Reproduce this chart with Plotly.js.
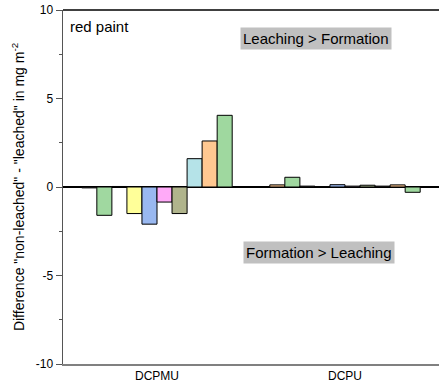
<!DOCTYPE html>
<html>
<head>
<meta charset="utf-8">
<script src="https://cdn.plot.ly/plotly-3.0.1.min.js"></script>
<style>html,body{margin:0;padding:0;background:#fff;}#chart{width:439px;height:391px;}</style>
</head>
<body>
<div id="chart"></div>
<script>
const categories = ["DCPMU", "DCPU"];
// ten bars per group, left to right
const dcpmuValues = [-0.05, -1.6, 0.03, -1.5, -2.1, -0.85, -1.5, 1.6, 2.6, 4.05];
const dcpuValues  = [0.12, 0.55, 0.05, 0.02, 0.13, 0.05, 0.1, 0.05, 0.12, -0.3];
const dcpmuColors = ["#808080", "#a0d8a0", "#ffffff", "#ffff99", "#99b8f0", "#ffaaf8", "#b0b48c", "#b5e3e8", "#ffc891", "#9fd89f"];
const dcpuColors  = ["#ffc891", "#a0d8a0", "#606060", "#d0d0d0", "#99b8f0", "#b0a8c0", "#a8b88c", "#606060", "#ffc891", "#9fd89f"];
const yTickVals = [-10, -5, 0, 5, 10];
const yTickText = ["-10", "-5", "0", "5", "10"];

const traces = dcpmuValues.map((v, i) => ({
  type: "bar",
  x: categories,
  y: [v, dcpuValues[i]],
  marker: {color: [dcpmuColors[i], dcpuColors[i]], line: {color: "#000", width: 1}},
  showlegend: false,
  hoverinfo: "none"
}));

const font = "Liberation Sans, Arial, sans-serif";
const layout = {
  width: 439, height: 391,
  margin: {l: 63, r: 0, t: 10, b: 27},
  paper_bgcolor: "#fff", plot_bgcolor: "#fff",
  barmode: "group", bargap: 0.2, bargroupgap: 0,
  font: {family: font, color: "#000", size: 12},
  xaxis: {
    showline: true, linecolor: "#808080", linewidth: 1.5,
    ticks: "", showgrid: false, zeroline: false,
    tickfont: {size: 12, family: font}
  },
  yaxis: {
    range: [-10, 10], showline: true, linecolor: "#555", linewidth: 1.5,
    tickvals: yTickVals, ticktext: yTickText,
    ticks: "outside", ticklen: 6, tickwidth: 1, tickcolor: "#555",
    minor: {dtick: 2.5, tick0: 0, ticks: "outside", ticklen: 3, tickcolor: "#555", showgrid: false},
    showgrid: false, zeroline: true, zerolinecolor: "#000", zerolinewidth: 1.5,
    tickfont: {size: 12, family: font},
    title: {text: "Difference \"non-leached\" - \"leached\" in mg m<sup>-2</sup>", font: {size: 14, family: font}, standoff: 8}
  },
  shapes: [
    {type: "line", xref: "paper", yref: "paper", x0: 0, x1: 1, y0: 1, y1: 1, line: {color: "#000", width: 1.5}}
  ],
  annotations: [
    {text: "red paint", xref: "paper", yref: "paper", x: 0.012, y: 0.982, xanchor: "left", yanchor: "top", showarrow: false, font: {size: 15, family: font}},
    {text: "Leaching > Formation", xref: "paper", yref: "y", x: 0.673, y: 8.4, xanchor: "center", yanchor: "middle", showarrow: false, bgcolor: "#c0c0c0", borderpad: 2, font: {size: 15, family: font}},
    {text: "Formation > Leaching", xref: "paper", yref: "y", x: 0.681, y: -3.7, xanchor: "center", yanchor: "middle", showarrow: false, bgcolor: "#c0c0c0", borderpad: 2, font: {size: 15, family: font}}
  ]
};

Plotly.newPlot("chart", traces, layout, {staticPlot: true, displayModeBar: false});
</script>
</body>
</html>
